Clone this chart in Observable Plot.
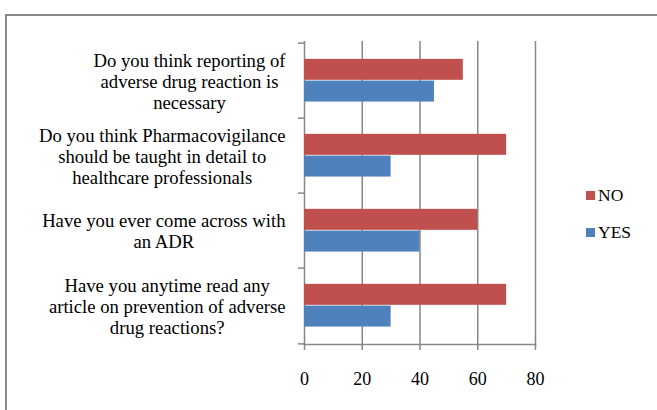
<!DOCTYPE html>
<html>
<head>
<meta charset="utf-8">
<script src="https://cdn.jsdelivr.net/npm/d3@7"></script>
<script src="https://cdn.jsdelivr.net/npm/@observablehq/plot@0.6"></script>
<style>
  html, body { margin: 0; padding: 0; background: #fff; }
  #wrap { position: relative; width: 657px; height: 410px; overflow: hidden; background: #fff; }
  #border { position: absolute; left: 5px; top: 14px; width: 800px; height: 600px; border-left: 2px solid #898989; border-top: 2px solid #898989; box-sizing: border-box; }
  #chart { position: absolute; left: 0; top: 0; }
  .leg { position: absolute; left: 586px; display: flex; align-items: center; font-family: 'Liberation Serif', 'Times New Roman', serif; font-size: 17.5px; color: #000; height: 20px; }
  .sw { width: 9px; height: 9px; margin-right: 3px; }
</style>
</head>
<body>
<div id="wrap">
  <div id="border"></div>
  <div id="chart"></div>
</div>
<script>
const questions = [
  "Do you think reporting of\nadverse drug reaction is\nnecessary",
  "Do you think Pharmacovigilance\nshould be taught in detail to\nhealthcare professionals",
  "Have you ever come across with\nan ADR",
  "Have you anytime read any\narticle on prevention of adverse\ndrug reactions?"
];
const noValues = [55, 70, 60, 70];
const yesValues = [45, 30, 40, 30];
const series = ["NO", "YES"];
const colors = ["#C0504D", "#4F81BD"];
const xTicks = [0, 20, 40, 60, 80];

const rows = questions.map((q, i) => ({q, no: noValues[i], yes: yesValues[i]}));

const W = 657, H = 410, mt = 41, mb = 66, ml = 304, mr = 122;
const step = (H - mt - mb) / questions.length;
const barH = step * 0.287;
const gray = "#878787";
const font = "Liberation Serif, Times New Roman, serif";
const labelSize = 18.7;

const ctx = document.createElement("canvas").getContext("2d");
ctx.font = labelSize + "px 'Liberation Serif', serif";
const widths = questions.map(q => Math.max(...q.split("\n").map(l => ctx.measureText(l).width)));

const labelMarks = questions.map((q, i) => Plot.axisY([q], {
  tickSize: 0, tickPadding: 0, textAnchor: "middle", lineHeight: 1.12,
  dx: -(19 + widths[i] / 2), tickFormat: d => d, label: null, fill: "#000",
  fontFamily: font, fontSize: labelSize
}));

const chart = Plot.plot({
  width: W, height: H,
  marginLeft: ml, marginRight: mr, marginTop: mt, marginBottom: mb,
  style: {fontFamily: font, fontSize: "18px", color: "#000", background: "transparent", overflow: "visible"},
  x: {domain: [0, 80], axis: null},
  y: {domain: questions, padding: 0, axis: null},
  marks: [
    Plot.gridX(xTicks, {stroke: gray, strokeOpacity: 1, strokeWidth: 1.5}),
    Plot.barX(rows, {x: "no", y: "q", fill: colors[0], insetTop: step * 0.209, insetBottom: step - step * 0.209 - barH}),
    Plot.barX(rows, {x: "yes", y: "q", fill: colors[1], insetTop: step * 0.209 + barH, insetBottom: step - step * 0.209 - 2 * barH}),
    Plot.frame({anchor: "bottom", stroke: gray, strokeWidth: 1.5}),
    Plot.axisY(questions, {tickSize: 6, tickFormat: () => "", dy: -step / 2, stroke: gray, strokeWidth: 1.5, label: null}),
    Plot.axisY([questions[questions.length - 1]], {tickSize: 6, tickFormat: () => "", dy: step / 2, stroke: gray, strokeWidth: 1.5, label: null}),
    Plot.axisX(xTicks, {tickSize: 6, tickPadding: 21.5, stroke: gray, strokeWidth: 1.5, fill: "#000", label: null, fontFamily: font, fontSize: 18}),
    ...labelMarks
  ]
});
document.getElementById("chart").appendChild(chart);

const wrap = document.getElementById("wrap");
const legTops = [185.5, 222.5];
series.forEach((s, i) => {
  const d = document.createElement("div");
  d.className = "leg";
  d.style.top = legTops[i] + "px";
  const sw = document.createElement("div");
  sw.className = "sw";
  sw.style.background = colors[i];
  const t = document.createElement("span");
  t.textContent = s;
  d.appendChild(sw); d.appendChild(t);
  wrap.appendChild(d);
});
</script>
</body>
</html>
